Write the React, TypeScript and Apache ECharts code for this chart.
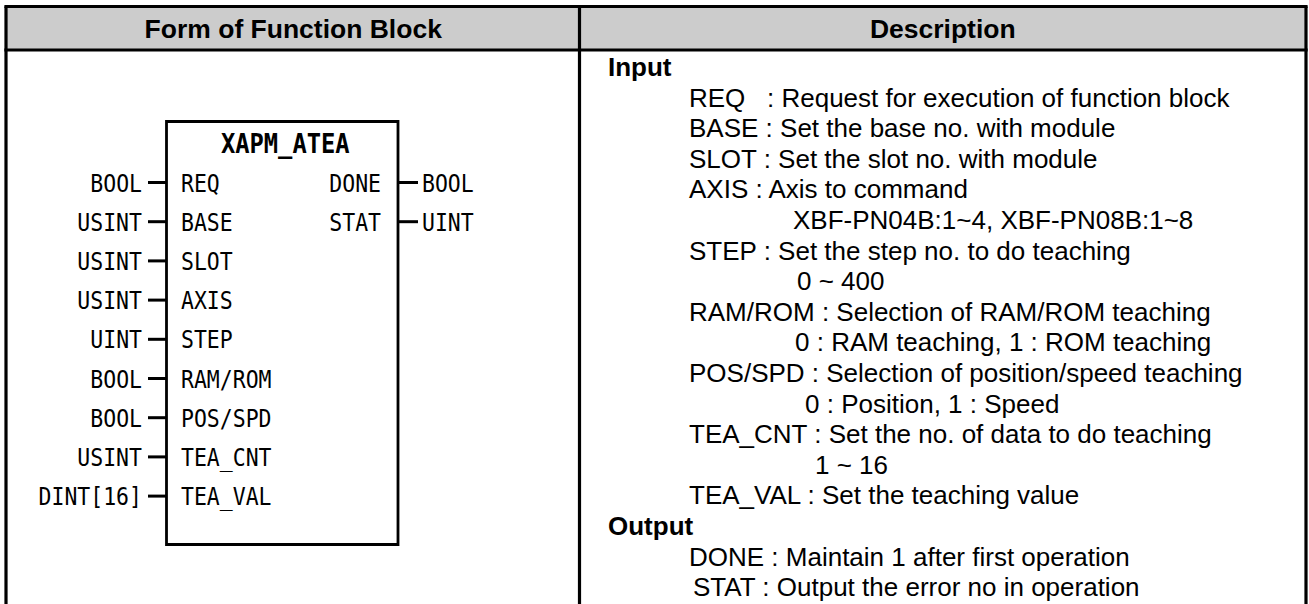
import React, { useEffect, useRef } from "react";
import * as echarts from "echarts";

const headerTitles = ["Form of Function Block", "Description"];
const blockName = "XAPM_ATEA";
const inputNames = ["REQ", "BASE", "SLOT", "AXIS", "STEP", "RAM/ROM", "POS/SPD", "TEA_CNT", "TEA_VAL"];
const inputTypes = ["BOOL", "USINT", "USINT", "USINT", "UINT", "BOOL", "BOOL", "USINT", "DINT[16]"];
const outputNames = ["DONE", "STAT"];
const outputTypes = ["BOOL", "UINT"];
const descTexts = [
  "Input",
  "REQ   : Request for execution of function block",
  "BASE : Set the base no. with module",
  "SLOT : Set the slot no. with module",
  "AXIS : Axis to command",
  "XBF-PN04B:1~4, XBF-PN08B:1~8",
  "STEP : Set the step no. to do teaching",
  "0 ~ 400",
  "RAM/ROM : Selection of RAM/ROM teaching",
  "0 : RAM teaching, 1 : ROM teaching",
  "POS/SPD : Selection of position/speed teaching",
  "0 : Position, 1 : Speed",
  "TEA_CNT : Set the no. of data to do teaching",
  "1 ~ 16",
  "TEA_VAL : Set the teaching value",
  "Output",
  "DONE : Maintain 1 after first operation",
  "STAT : Output the error no in operation",
];
// 0 = section heading, 1 = item, 2.. = value lines (different indents)
const descLevels = [0, 1, 1, 1, 1, 2, 1, 3, 1, 4, 1, 5, 1, 6, 1, 0, 1, 7];

export default function App() {
  const ref = useRef<HTMLDivElement>(null);
  useEffect(() => {
    if (!ref.current) return;
    const chart = echarts.init(ref.current, null, { renderer: "svg" });
    const top = 6.5;
    const headBottom = 50;
    const left = 6;
    const right = 1306;
    const divX = 579.5;
    const bw = 3.2;
    const els: any[] = [];
    // header fill
    els.push({ type: "rect", shape: { x: left, y: top, width: right - left, height: headBottom - top }, style: { fill: "#cccccc" } });
    const line = (x1: number, y1: number, x2: number, y2: number, w: number) =>
      els.push({ type: "line", shape: { x1, y1, x2, y2 }, style: { stroke: "#000", lineWidth: w } });
    line(left - 1.6, top, right + 1.6, top, bw);
    line(left - 1.6, headBottom, right + 1.6, headBottom, bw);
    line(left, top, left, 604, bw);
    line(right, top, right, 604, bw);
    line(divX, top, divX, 604, bw);
    // header titles
    const headFont = { fontFamily: "Liberation Sans, Arial, sans-serif", fontWeight: "bold", fontSize: 25, fill: "#000" };
    els.push({ type: "text", x: (left + divX) / 2 + 0.5, y: (top + headBottom) / 2 + 1, scaleX: 1.06, style: { text: headerTitles[0], align: "center", verticalAlign: "middle", ...headFont } });
    els.push({ type: "text", x: (divX + right) / 2, y: (top + headBottom) / 2 + 1, scaleX: 1.06, style: { text: headerTitles[1], align: "center", verticalAlign: "middle", ...headFont } });

    // function block
    const bx1 = 166.5, bx2 = 398, by1 = 121.5, by2 = 544.5;
    els.push({ type: "rect", shape: { x: bx1, y: by1, width: bx2 - bx1, height: by2 - by1 }, style: { fill: "none", stroke: "#000", lineWidth: 2.8 } });
    const monoFont = { fontFamily: "DejaVu Sans Mono, monospace", fontSize: 25, fill: "#000" };
    const sx = 0.86;
    els.push({ type: "text", x: (bx1 + bx2) / 2 + 3, y: 143, scaleX: 0.88, style: { text: blockName, align: "center", verticalAlign: "middle", ...monoFont, fontSize: 27, fontWeight: "bold" } });
    const rowY = (i: number) => 182.5 + i * 39.2;
    inputNames.forEach((n, i) => {
      const y = rowY(i);
      line(148, y, bx1, y, 3);
      els.push({ type: "text", x: 142, y, scaleX: sx, style: { text: inputTypes[i], align: "right", verticalAlign: "middle", ...monoFont } });
      els.push({ type: "text", x: 181, y, scaleX: sx, style: { text: n, align: "left", verticalAlign: "middle", ...monoFont } });
    });
    outputNames.forEach((n, i) => {
      const y = rowY(i);
      line(bx2, y, 418, y, 3);
      els.push({ type: "text", x: 381, y, scaleX: sx, style: { text: n, align: "right", verticalAlign: "middle", ...monoFont } });
      els.push({ type: "text", x: 422, y, scaleX: sx, style: { text: outputTypes[i], align: "left", verticalAlign: "middle", ...monoFont } });
    });

    // description
    const levelX = [608, 689, 793, 797, 795, 805, 815, 693];
    descTexts.forEach((t, i) => {
      const lv = descLevels[i];
      els.push({
        type: "text",
        x: levelX[lv],
        y: 67 + i * 30.6,
        style: {
          text: t,
          align: "left",
          verticalAlign: "middle",
          fontFamily: "Liberation Sans, Arial, sans-serif",
          fontWeight: lv === 0 ? "bold" : "normal",
          fontSize: 26,
          fill: "#000",
        },
      });
    });

    chart.setOption({ animation: false, backgroundColor: "#fff", graphic: { elements: els } });
    return () => chart.dispose();
  }, []);
  return <div ref={ref} style={{ position: "fixed", left: 0, top: 0, width: 1309, height: 604, background: "#fff" }} />;
}
